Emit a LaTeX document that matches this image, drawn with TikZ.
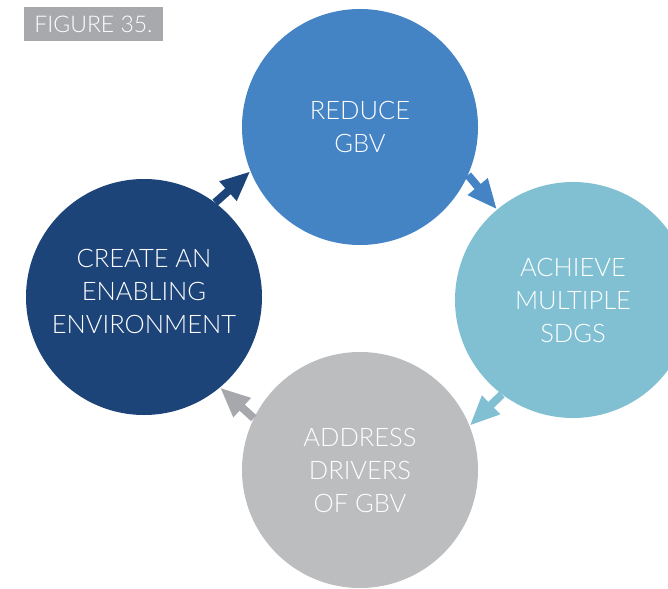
\documentclass[tikz,border=0pt]{standalone}
\usepackage{fontspec}
\setmainfont{Lato}[UprightFont={* Light}]
\usetikzlibrary{arrows.meta}
\definecolor{cblue}{HTML}{4484C4}
\definecolor{cnavy}{HTML}{1C4479}
\definecolor{clight}{HTML}{80C0D2}
\definecolor{cgray}{HTML}{BCBDBF}
\definecolor{cdgray}{HTML}{A7A8AB}
\definecolor{cfig}{HTML}{A7A9AC}
\tikzset{
  bubble/.style={circle, minimum size=236pt, inner sep=0pt, text=white,
    align=center, font=\fontsize{25.5}{33}\selectfont},
  flow/.style={line width=8pt, -{Triangle[length=30pt,width=24pt]}},
}
\begin{document}
\begin{tikzpicture}[x=1pt,y=-1pt]
\useasboundingbox (0,0) rectangle (668,588);
\clip (0,0) rectangle (668,588);
\node[bubble, fill=cblue]  (top)   at (360,127) {REDUCE\\GBV};
\node[bubble, fill=clight] (right) at (573,300) {ACHIEVE\\MULTIPLE\\SDGS};
\node[bubble, fill=cgray]  (bot)   at (360,470) {ADDRESS\\DRIVERS\\OF GBV};
\node[bubble, fill=cnavy]  (left)  at (144,297) {CREATE AN\\ENABLING\\ENVIRONMENT\\[-22pt]};
\draw[flow, cblue]  (top.-24)   -- (right.130);
\draw[flow, clight] (right.-127) -- (bot.22);
\draw[flow, cdgray] (bot.154)   -- (left.-50);
\draw[flow, cnavy]  (left.53)   -- (top.-158);
\node[fill=cfig, text=white, inner sep=0pt, minimum width=139pt, minimum height=34pt,
  font=\fontsize{23}{26}\selectfont] (fig) at (93.5,24) {FIGURE 35.};
\end{tikzpicture}
\end{document}
